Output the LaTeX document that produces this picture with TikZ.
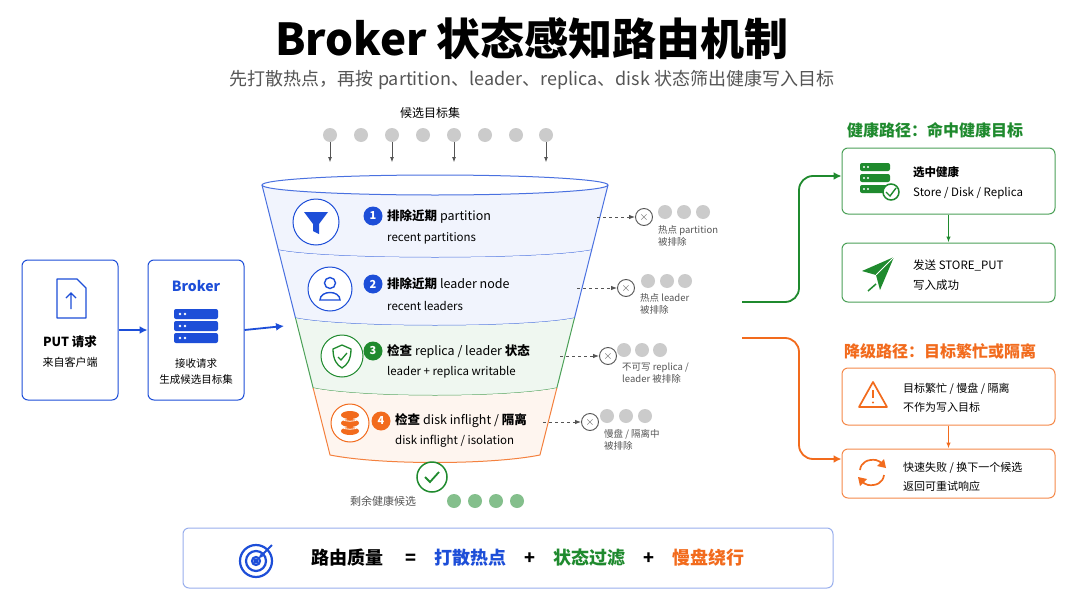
\documentclass[tikz,border=0pt]{standalone}
\usepackage{fontspec}
\setmainfont{Noto Sans CJK SC}
\usetikzlibrary{positioning,calc,arrows.meta}
\definecolor{bblue}{HTML}{1D4ED8}
\definecolor{ggreen}{HTML}{1F8A2E}
\definecolor{oorange}{HTML}{F26B1D}
\definecolor{dotgray}{HTML}{CBCBCB}
\definecolor{txtgray}{HTML}{555555}
\tikzset{
	x=1pt, y=-1pt,
	every node/.style={inner sep=1pt},
	card/.style={draw, rounded corners=6pt, line width=1pt, fill=white},
	dot/.style={circle, fill=dotgray, minimum size=14pt, inner sep=0pt},
	gdot/.style={circle, fill=ggreen!55, minimum size=14pt, inner sep=0pt},
	badge/.style={circle, fill=#1, text=white, font=\bfseries\fontsize{11}{11}\selectfont, minimum size=19pt, inner sep=0pt},
	ring/.style={circle, draw=#1, line width=1pt, fill=white, inner sep=0pt},
	xmark/.style={circle, draw=txtgray, line width=0.9pt, minimum size=17pt, inner sep=0pt, font=\fontsize{12}{12}\selectfont, text=txtgray},
	note/.style={anchor=north west, align=left, text=txtgray, font=\fontsize{9.5}{12}\selectfont},
	main/.style={anchor=west, font=\fontsize{12.5}{14}\selectfont},
	sub/.style={anchor=west, font=\fontsize{11.5}{14}\selectfont},
	boxtext/.style={anchor=west, align=left, font=\fontsize{11.5}{20}\selectfont},
	drop/.style={-{Latex[length=6pt]}, dashed, txtgray, line width=0.9pt},
	flow/.style={-{Latex[length=8pt,width=8pt]}, line width=1.8pt}
}
% funnel band: top y, bottom y, fill, draw
\newcommand\band[4]{%
	\pgfmathsetmacro\xlt{262+0.252*(#1-185)}\pgfmathsetmacro\xrt{608-0.252*(#1-185)}%
	\pgfmathsetmacro\xlb{262+0.252*(#2-185)}\pgfmathsetmacro\xrb{608-0.252*(#2-185)}%
	\fill[#3] (\xlt,#1) .. controls (\xlt+50,#1+10) and (\xrt-50,#1+10) .. (\xrt,#1)
		-- (\xrb,#2) .. controls (\xrb-50,#2+10) and (\xlb+50,#2+10) .. (\xlb,#2) -- cycle;
	\draw[#4, line width=1pt] (\xlt,#1) -- (\xlb,#2) .. controls (\xlb+50,#2+10) and (\xrb-50,#2+10) .. (\xrb,#2) -- (\xrt,#1);
}
\begin{document}
\begin{tikzpicture}
\useasboundingbox[fill=white] (0,0) rectangle (1080,608);

% Title
\node (title) at (532,38) {\fontsize{44}{48}\selectfont\bfseries Broker 状态感知路由机制};
\node (subtitle) at (532,80) {\fontsize{18}{20}\selectfont\color{txtgray}先打散热点，再按 partition、leader、replica、disk 状态筛出健康写入目标};

% candidates
\node (cand) at (430,113) {\fontsize{12}{14}\selectfont 候选目标集};
\foreach \x [count=\i] in {330,361,392,423,454,485,516,546}
	\node[dot] (c\i) at (\x,135) {};
\foreach \i in {1,3,5,8}
	\draw[-{Latex[length=5pt]}, txtgray, line width=0.8pt] (c\i.south) -- ++(0,20);

% funnel
\band{185}{250}{bblue!6}{bblue!80}
\band{250}{318}{bblue!6}{bblue!80}
\band{318}{388}{ggreen!7}{ggreen!80}
\band{388}{455}{oorange!7}{oorange!85}
\draw[bblue!80, line width=1pt, fill=white] (435,185) ellipse [x radius=173, y radius=10];

% stage 1
\node[ring=bblue, minimum size=46pt] (i1) at (316,222) {};
\fill[bblue] (304,212) -- (328,212) -- (319,224) -- (319,234) -- (313,231) -- (313,224) -- cycle;
\node[badge=bblue] (n1) at (373,216) {1};
\node[main] (t1) at (386,216) {\bfseries 排除近期 \mdseries partition};
\node[sub] (s1) at (386,238) {recent partitions};
% stage 2
\node[ring=bblue, minimum size=44pt] (i2) at (330,289) {};
\draw[bblue, line width=1.4pt] (330,283) circle (5.5);
\draw[bblue, line width=1.4pt] (320,300) .. controls (320,290) and (340,290) .. (340,300) -- cycle;
\node[badge=bblue] (n2) at (373,284) {2};
\node[main] (t2) at (386,284) {\bfseries 排除近期 \mdseries leader node};
\node[sub] (s2) at (386,306) {recent leaders};
% stage 3
\node[ring=ggreen, minimum size=42pt] (i3) at (342,356) {};
\draw[ggreen, line width=1.3pt] (342,345) -- (351,349) .. controls (351,360) and (347,365) .. (342,368) .. controls (337,365) and (333,360) .. (333,349) -- cycle;
\draw[ggreen, line width=1.3pt] (338,357) -- (341,360) -- (347,353);
\node[badge=ggreen] (n3) at (373,351) {3};
\node[main] (t3) at (386,351) {\bfseries 检查 \mdseries replica / leader \bfseries 状态};
\node[sub] (s3) at (386,372) {leader + replica writable};
% stage 4
\node[ring=oorange, minimum size=38pt] (i4) at (350,423) {};
\foreach \dy in {8,0,-8}
	\fill[oorange] (350,423+\dy) ellipse [x radius=9, y radius=4];
\foreach \dy in {4,-4}
	\draw[white, line width=0.8pt] (341,423+\dy) .. controls (345,426+\dy) and (355,426+\dy) .. (359,423+\dy);
\node[badge=oorange] (n4) at (381,421) {4};
\node[main] (t4) at (394,421) {\bfseries 检查 \mdseries disk inflight / \bfseries 隔离};
\node[sub] (s4) at (394,441) {disk inflight / isolation};

% rejected
\coordinate (r1) at (597,217);
\node[xmark] (x1) at (644,217) {$\times$};
\draw[drop] (r1) -- (x1);
\foreach \x in {665,684,703} \node[dot] at (\x,212) {};
\node[note] (l1) at (657,224) {热点 partition\\被排除};
\coordinate (r2) at (577,288);
\node[xmark] (x2) at (626,288) {$\times$};
\draw[drop] (r2) -- (x2);
\foreach \x in {648,667,685} \node[dot] at (\x,281) {};
\node[note] (l2) at (639,292) {热点 leader\\被排除};
\coordinate (r3) at (560,356);
\node[xmark] (x3) at (608,356) {$\times$};
\draw[drop] (r3) -- (x3);
\foreach \x in {624,642,660} \node[dot] at (\x,350) {};
\node[note] (l3) at (621,362) {不可写 replica /\\leader 被排除};
\coordinate (r4) at (543,422);
\node[xmark] (x4) at (590,422) {$\times$};
\draw[drop] (r4) -- (x4);
\foreach \x in {607,626,645} \node[dot] at (\x,416) {};
\node[note] (l4) at (603,428) {慢盘 / 隔离中\\被排除};

% survivors
\node[ring=ggreen, minimum size=30pt, line width=1.5pt] (ok) at (432,477) {};
\draw[ggreen, line width=1.8pt] (425,477) -- (430,482) -- (439,472);
\node (rest) at (383,501) {\fontsize{11}{13}\selectfont\color{txtgray}剩余健康候选};
\foreach \x in {454,475,496,517} \node[gdot] at (\x,501) {};

% client & broker
\node[card, draw=bblue, minimum width=96pt, minimum height=140pt] (put) at (70,330) {};
\draw[bblue, line width=1.4pt, line join=round] (57,279) -- (77,279) -- (86,288) -- (86,318) -- (57,318) -- cycle;
\draw[bblue, line width=1.4pt] (71,309) -- (71,293) (66,298) -- (71,293) -- (76,298);
\node (putt) at (70,342) {\fontsize{12.5}{14}\selectfont\bfseries PUT 请求};
\node (puts) at (70,362) {\fontsize{11}{13}\selectfont 来自客户端};
\node[card, draw=bblue, minimum width=96pt, minimum height=140pt] (broker) at (196,330) {};
\node (brt) at (196,286) {\fontsize{14}{16}\selectfont\bfseries\color{bblue}Broker};
\foreach \dy in {-12,0,12} {
	\fill[bblue, rounded corners=2pt] (174,326+\dy-5) rectangle (218,326+\dy+5);
	\fill[white] (180,326+\dy) circle (1.3) (185,326+\dy) circle (1.3);
}
\node (brs) at (196,372) {\fontsize{10.5}{16}\selectfont\begin{tabular}{c}接收请求\\生成候选目标集\end{tabular}};
\draw[flow, bblue] (put.east) -- (broker.west);
\coordinate (fin) at (284,326);
\draw[flow, bblue] (broker.east) -- (fin);

% healthy path
\node (gh) at (935,130) {\fontsize{16}{18}\selectfont\bfseries\color{ggreen}健康路径：命中健康目标};
\node[card, draw=ggreen!80, minimum width=213pt, minimum height=66pt] (g1) at (948.5,181) {};
\foreach \dy in {-11,0,11} {
	\fill[ggreen, rounded corners=2pt] (860,178+\dy-4) rectangle (890,178+\dy+4);
	\fill[white] (864,178+\dy) circle (1.1) (868,178+\dy) circle (1.1);
}
\node[circle, fill=white, draw=ggreen, line width=1.5pt, minimum size=16pt, inner sep=0pt] (gc) at (891,192) {};
\draw[ggreen, line width=1.4pt] (886,192) -- (890,196) -- (896,188);
\node[boxtext] (g1t) at (912,183) {\bfseries 选中健康\\Store / Disk / Replica};
\node[card, draw=ggreen!80, minimum width=213pt, minimum height=59pt] (g2) at (948.5,272.5) {};
\fill[ggreen] (894,257) -- (862,271) -- (876,275) -- (880,290) -- cycle;
\draw[white, line width=1pt] (876,275) -- (894,257);
\draw[ggreen, line width=1.5pt] (876,284) -- (868,291);
\node[boxtext] (g2t) at (912,275) {发送 STORE\_PUT\\写入成功};
\draw[-{Latex[length=6pt]}, ggreen, line width=1.4pt] (g1) -- (g2);
\coordinate (gs) at (742,302);
\draw[flow, ggreen, rounded corners=14pt] (gs) -- (799,302) -- (799,176) -- (g1.west |- 0,176);

% degraded path
\node (oh) at (940,351) {\fontsize{16}{18}\selectfont\bfseries\color{oorange}降级路径：目标繁忙或隔离};
\node[card, draw=oorange!80, minimum width=213pt, minimum height=57pt] (o1) at (948.5,396.5) {};
\draw[oorange, line width=1.7pt, line join=round] (873,382) -- (887,407) -- (859,407) -- cycle;
\draw[oorange, line width=1.7pt] (873,390) -- (873,398);
\fill[oorange] (873,402.5) circle (1.2);
\node[boxtext, font=\fontsize{11}{19}\selectfont] (o1t) at (902,398) {目标繁忙 / 慢盘 / 隔离\\不作为写入目标};
\node[card, draw=oorange!80, minimum width=213pt, minimum height=49pt] (o2) at (948.5,473.5) {};
\draw[oorange, line width=1.7pt] (860,470) .. controls (861,462) and (868,459) .. (876,460) .. controls (879,461) and (881,462) .. (882,464);
\fill[oorange] (886,468) -- (877,466) -- (884,459) -- cycle;
\draw[oorange, line width=1.7pt] (884,475) .. controls (883,483) and (876,486) .. (868,485) .. controls (865,484) and (863,483) .. (862,481);
\fill[oorange] (858,477) -- (867,479) -- (860,486) -- cycle;
\node[boxtext, font=\fontsize{11}{19}\selectfont] (o2t) at (902,477) {快速失败 / 换下一个候选\\返回可重试响应};
\draw[-{Latex[length=6pt]}, oorange, line width=1.4pt] (o1) -- (o2);
\coordinate (os) at (742,338);
\draw[flow, oorange, rounded corners=14pt] (os) -- (799,338) -- (799,459) -- (o2.west |- 0,459);

% summary bar
\node[draw=bblue!45, line width=1pt, rounded corners=6pt, fill=white, minimum width=650pt, minimum height=60pt] (bar) at (508,558) {};
\foreach \r in {16,10,4} \draw[bblue, line width=2.2pt] (256,561) circle (\r);
\fill[bblue] (256,561) circle (2.5);
\draw[bblue, line width=2pt, -{Latex[length=5pt]}] (272,545) -- (258,559);
\node (sum) at (528,558) {\fontsize{18}{20}\selectfont\bfseries 路由质量 \quad=\quad \color{bblue}打散热点\color{black}\quad+\quad\color{ggreen}状态过滤\color{black}\quad+\quad\color{oorange}慢盘绕行};
\end{tikzpicture}
\end{document}
